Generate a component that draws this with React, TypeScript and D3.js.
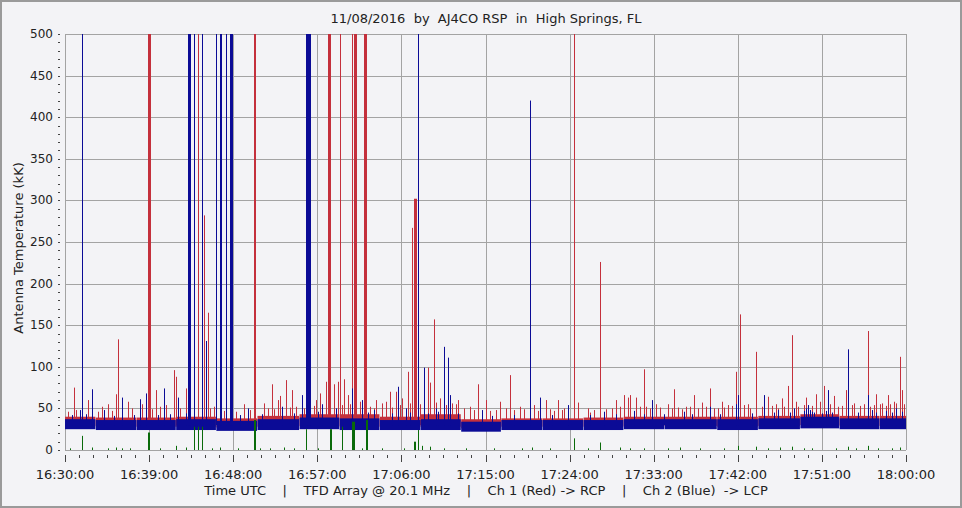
import React from "react";
import * as d3 from "d3";

const W = 962;
const H = 508;

const titleText = "11/08/2016  by  AJ4CO RSP  in  High Springs, FL";
const captionText = "Time UTC    |    TFD Array @ 20.1 MHz    |    Ch 1 (Red) -> RCP    |    Ch 2 (Blue)  -> LCP";
const yTitle = "Antenna Temperature (kK)";

const tickMinutes = [0, 9, 18, 27, 36, 45, 54, 63, 72, 81, 90];
const tickLabels = ["16:30:00", "16:39:00", "16:48:00", "16:57:00", "17:06:00", "17:15:00", "17:24:00", "17:33:00", "17:42:00", "17:51:00", "18:00:00"];
const yTicks = [0, 50, 100, 150, 200, 250, 300, 350, 400, 450, 500];

// baseline noise band per recording block (minutes after 16:30)
const segStart = [0, 3.3, 7.7, 11.9, 16.2, 20.6, 25.1, 29.4, 33.7, 38.1, 42.4, 46.7, 51.1, 55.5, 59.8, 64.2, 69.8, 74.2, 78.7, 82.9, 87.2];
const segEnd = [3.25, 7.65, 11.85, 16.15, 20.55, 25.05, 29.35, 33.65, 38.05, 42.35, 46.65, 51.05, 55.45, 59.75, 64.15, 69.75, 74.15, 78.65, 82.85, 87.15, 90];
const blueLow = [25, 24, 24, 24, 23, 24, 25, 24, 24, 24, 22, 24, 24, 24, 25, 25, 24, 25, 26, 25, 25];
const blueHigh = [37, 36, 36, 37, 35, 37, 39, 38, 36, 37, 34, 36, 36, 36, 37, 37, 37, 38, 40, 38, 38];
const redHigh = [40, 39, 39, 40, 38, 41, 43, 43, 40, 43, 37, 38, 38, 39, 40, 40, 40, 41, 43, 41, 41];

// wide bursts: [minute, value, duration in minutes]
const redBursts: [number, number, number][] = [
  [9.02, 500, 0.32], [14.31, 500, 0.1], [14.77, 500, 0.16], [20.33, 500, 0.22], [28.41, 500, 0.32],
  [29.57, 500, 0.1], [30.86, 500, 0.1], [31.18, 500, 0.32], [32.25, 500, 0.32], [54.51, 500, 0.1],
  [37.4, 302, 0.3], [37.24, 267, 0.1], [57.33, 226, 0.1],
];
const blueBursts: [number, number, number][] = [
  [1.85, 500, 0.1], [13.41, 500, 0.32], [13.84, 500, 0.1], [14.83, 500, 0.16], [16.3, 500, 0.1],
  [16.77, 500, 0.2], [17.34, 500, 0.16], [17.9, 500, 0.32], [26.06, 500, 0.5], [37.81, 500, 0.1],
  [49.9, 420, 0.1], [26.33, 110, 0.12],
];

// single-sample spikes: [minute, value]
const redSpikes: [number, number][] = [
  [0.89, 75], [2.49, 60], [5.46, 67], [5.75, 133], [6.71, 58], [9.71, 72], [10.09, 52], [11.74, 96],
  [11.85, 88], [12.92, 74], [14.88, 282], [15.2, 165], [15.98, 52], [22.05, 79], [23.01, 65], [23.65, 84],
  [24.26, 72], [27.83, 82], [28.71, 79], [29.14, 82], [29.89, 85], [33.36, 60], [34.71, 70], [35.4, 70],
  [36.1, 62], [36.74, 94], [38.77, 99], [39.06, 81], [39.42, 157], [41.74, 55], [42.0, 60], [44.12, 79],
  [45.02, 60], [46.55, 58], [47.55, 90], [51.55, 60], [52.73, 60], [54.83, 57], [56.08, 45], [58.9, 60],
  [59.86, 66], [60.29, 63], [60.57, 66], [61.11, 63], [61.89, 97], [62.25, 52], [63.2, 55], [65.21, 73],
  [65.63, 51], [67.35, 66], [68.14, 57], [68.95, 74], [69.92, 50], [70.39, 58], [71.84, 94], [72.13, 163],
  [74.03, 118], [75.24, 64], [76.7, 62], [77.34, 77], [77.73, 138], [79.38, 63], [80.45, 67], [81.26, 77],
  [82.33, 65], [83.48, 72], [85.86, 143], [86.87, 67], [88.0, 66], [89.29, 112], [89.47, 72],
  [3.9, 52], [4.6, 55], [7.2, 50], [8.3, 55], [10.8, 54], [19.2, 55], [21.2, 56], [22.7, 60], [26.9, 60],
  [27.2, 68], [30.2, 66], [31.6, 58], [33.9, 56], [34.3, 58], [40.2, 62], [43.3, 52], [48.6, 52], [50.2, 54],
  [53.4, 50], [64.6, 55], [66.5, 52], [70.9, 54], [73.0, 55], [76.0, 55], [78.2, 58], [80.9, 58], [84.5, 56],
  [87.5, 56], [88.7, 58],
  [0.4, 46], [1.2, 48], [3.5, 46], [5.0, 47], [6.2, 46], [8.0, 48], [9.4, 49], [10.5, 47], [12.4, 50],
  [13.1, 48], [15.6, 50], [17.0, 47], [18.4, 46], [19.9, 48], [21.7, 50], [22.4, 49], [24.0, 51], [24.7, 52],
  [25.6, 50], [26.6, 53], [28.0, 52], [29.7, 54], [30.4, 55], [31.9, 53], [32.7, 52], [33.1, 50], [35.0, 51],
  [35.9, 54], [37.0, 56], [37.6, 58], [38.0, 55], [39.7, 57], [40.8, 54], [41.4, 56], [42.7, 50], [43.8, 48],
  [45.5, 47], [46.2, 48], [47.1, 50], [48.1, 48], [49.2, 49], [50.6, 47], [51.9, 49], [52.4, 47], [53.1, 48],
  [55.0, 47], [55.9, 50], [56.7, 48], [57.9, 49], [58.5, 50], [59.3, 52], [61.5, 52], [62.7, 50], [63.7, 51],
  [64.9, 50], [66.0, 49], [66.9, 52], [67.8, 50], [68.5, 52], [69.4, 50], [70.6, 51], [71.3, 53], [72.6, 54],
  [73.4, 50], [74.6, 52], [75.7, 53], [76.4, 50], [77.0, 52], [78.5, 52], [79.0, 54], [79.9, 53], [80.7, 55],
  [81.9, 55], [82.7, 52], [83.1, 53], [83.9, 52], [84.2, 54], [85.1, 53], [85.4, 55], [86.2, 52], [86.6, 54],
  [87.3, 55], [87.8, 53], [88.3, 55], [89.0, 56], [89.8, 55],
];
const blueSpikes: [number, number][] = [
  [1.68, 48], [2.86, 73], [6.18, 63], [7.95, 61], [8.74, 68], [10.52, 74], [12.06, 63], [15.02, 131],
  [25.33, 66], [30.79, 74], [31.75, 60], [35.67, 76], [38.35, 99], [40.49, 124], [41.06, 111], [41.24, 66],
  [50.87, 63], [53.78, 54], [53.9, 52], [62.89, 60], [68.92, 52], [72.06, 66], [71.9, 55], [74.88, 66],
  [79.3, 50], [79.48, 54], [79.7, 48], [81.5, 47], [81.69, 72], [83.69, 121], [85.97, 66], [89.01, 50],
  [4.2, 48], [19.6, 50], [23.3, 52], [27.5, 55], [28.9, 50], [33.0, 48], [36.5, 50], [39.8, 50], [44.6, 48],
  [57.6, 46], [60.9, 47], [66.2, 46], [76.2, 48], [78.0, 50], [86.3, 48], [87.9, 47],
  [0.7, 42], [2.2, 43], [5.2, 41], [7.4, 42], [9.9, 42], [11.3, 43], [13.0, 44], [18.8, 42], [21.0, 43],
  [24.5, 44], [27.0, 46], [29.0, 45], [32.4, 45], [34.9, 44], [36.9, 45], [38.9, 44], [40.0, 46], [42.0, 44],
  [45.8, 41], [48.0, 42], [52.2, 42], [56.2, 42], [59.0, 43], [61.9, 43], [64.0, 43], [67.1, 43], [70.1, 43],
  [73.6, 44], [75.8, 45], [77.5, 45], [79.1, 47], [79.9, 46], [80.2, 45], [81.1, 44], [82.0, 45], [84.8, 45],
  [86.8, 45], [88.5, 45], [89.6, 46],
];
const greenBursts: [number, number, number][] = [
  [8.99, 21, 0.2], [20.33, 36, 0.2], [28.36, 25, 0.2], [30.96, 34, 0.36], [32.29, 36, 0.2], [37.4, 10, 0.25],
];
const greenSpikes: [number, number][] = [
  [1.85, 17], [13.88, 28], [14.31, 28], [14.74, 28], [25.79, 25], [29.57, 28], [37.81, 24], [54.51, 14],
  [57.33, 9], [2.86, 3], [5.46, 3], [11.8, 5], [12.9, 3], [16.5, 3], [23.4, 3], [38.3, 5], [39.0, 4],
  [50.0, 3], [59.4, 3], [65.8, 3], [72.1, 5], [74.0, 4], [76.5, 3], [77.7, 4], [83.7, 4], [85.9, 5], [89.3, 3],
  [4.5, 2], [7.0, 2], [10.2, 2], [18.6, 2], [22.0, 2], [27.0, 2], [34.0, 2], [43.0, 2], [46.0, 2], [52.0, 2],
  [62.0, 2], [68.0, 2], [80.0, 2], [82.5, 2], [87.0, 2], [0.5, 2], [6.0, 2], [15.8, 2], [20.9, 2], [24.6, 2],
  [31.8, 2], [36.2, 2], [40.5, 2], [48.8, 2], [56.0, 2], [60.5, 2], [64.5, 2], [70.5, 2], [75.2, 2], [79.1, 2],
  [84.6, 2], [88.4, 2],
];

const RED = "#c4303c";
const BLUE = "#0b0b96";
const GREEN = "#0a6a0a";
const BG = "#f3f3f6";
const GRID = "#a3a3a3";
const FONT = "'DejaVu Sans', Verdana, sans-serif";

export default function App() {
  const x = d3.scaleLinear().domain([0, 90]).range([65, 906]);
  const y = d3.scaleLinear().domain([0, 500]).range([450, 34]);
  const minorX = d3.range(0, 90.01, 1.5);
  const minorY = d3.range(0, 500.01, 10);
  const base = 30;

  const pxEven = (v: number) => 2 * Math.round(v / 2);
  const burstRect = (m: number, v: number, dur: number, color: string, key: string, from = base) => {
    const x0 = pxEven(x(m - dur / 2));
    const w = Math.max(1, Math.round(x(m + dur / 2) - x(m - dur / 2)));
    const top = y(Math.min(v, 500));
    return <rect key={key} x={x0} y={top} width={w} height={y(from) - top} fill={color} />;
  };
  const spikeLine = (m: number, v: number, color: string, key: string, from = base) => (
    <rect key={key} x={pxEven(x(m))} y={y(v)} width={1} height={y(from) - y(v)} fill={color} />
  );

  return (
    <svg width={W} height={H} style={{ position: "absolute", left: 0, top: 0 }} fontFamily={FONT}>
      <rect x={0} y={0} width={W} height={H} fill={BG} />
      <rect x={1} y={1} width={W - 2} height={H - 2} fill="none" stroke="#9a9a9a" strokeWidth={2} />
      <text x={486} y={23} textAnchor="middle" fontSize={13} fill="#222" style={{ whiteSpace: "pre" }}>{titleText}</text>

      {/* grid */}
      {yTicks.map((t) => (
        <line key={"gy" + t} x1={65} x2={906} y1={Math.round(y(t)) + 0.5} y2={Math.round(y(t)) + 0.5} stroke={GRID} />
      ))}
      {tickMinutes.map((t) => (
        <line key={"gx" + t} y1={34} y2={450} x1={Math.round(x(t)) + 0.5} x2={Math.round(x(t)) + 0.5} stroke={GRID} />
      ))}

      <g>
        {/* red channel */}
        {segStart.map((s, i) => (
          <rect key={"rb" + i} x={x(s)} width={x(segEnd[i]) - x(s)} y={y(redHigh[i])} height={y(blueLow[i] + 4) - y(redHigh[i])} fill={RED} />
        ))}
        {redBursts.map((d, i) => burstRect(d[0], d[1], d[2], RED, "rbu" + i))}
        {redSpikes.map((d, i) => spikeLine(d[0], d[1], RED, "rs" + i))}
        {/* blue channel */}
        {segStart.map((s, i) => (
          <rect key={"bb" + i} x={x(s)} width={x(segEnd[i]) - x(s)} y={y(blueHigh[i])} height={y(blueLow[i]) - y(blueHigh[i])} fill={BLUE} />
        ))}
        {blueBursts.map((d, i) => burstRect(d[0], d[1], d[2], BLUE, "bbu" + i))}
        {blueSpikes.map((d, i) => spikeLine(d[0], d[1], BLUE, "bs" + i))}
        {/* green */}
        {greenBursts.map((d, i) => burstRect(d[0], d[1], d[2], GREEN, "gbu" + i, 0))}
        {greenSpikes.map((d, i) => spikeLine(d[0], d[1], GREEN, "gs" + i, 0))}
      </g>

      {/* y axis ticks + labels */}
      {minorY.map((t) => (
        <line key={"my" + t} x1={58} x2={60} y1={Math.round(y(t)) + 0.5} y2={Math.round(y(t)) + 0.5} stroke="#444" />
      ))}
      {yTicks.map((t) => (
        <text key={"ly" + t} x={53} y={y(t) + 4} textAnchor="end" fontSize={12} fill="#222">{t}</text>
      ))}
      <text transform={`translate(23,248) rotate(-90)`} textAnchor="middle" fontSize={13} fill="#222">{yTitle}</text>

      {/* x axis ticks + labels */}
      {minorX.map((t) => (
        <line key={"mx" + t} x1={Math.round(x(t)) + 0.5} x2={Math.round(x(t)) + 0.5} y1={455} y2={tickMinutes.includes(t) ? 462 : 458} stroke="#444" />
      ))}
      {tickMinutes.map((t, i) => (
        <text key={"lx" + t} x={x(t)} y={479} textAnchor="middle" fontSize={13} fill="#222">{tickLabels[i]}</text>
      ))}
      <text x={486} y={495} textAnchor="middle" fontSize={13} fill="#222" style={{ whiteSpace: "pre" }}>{captionText}</text>
    </svg>
  );
}
